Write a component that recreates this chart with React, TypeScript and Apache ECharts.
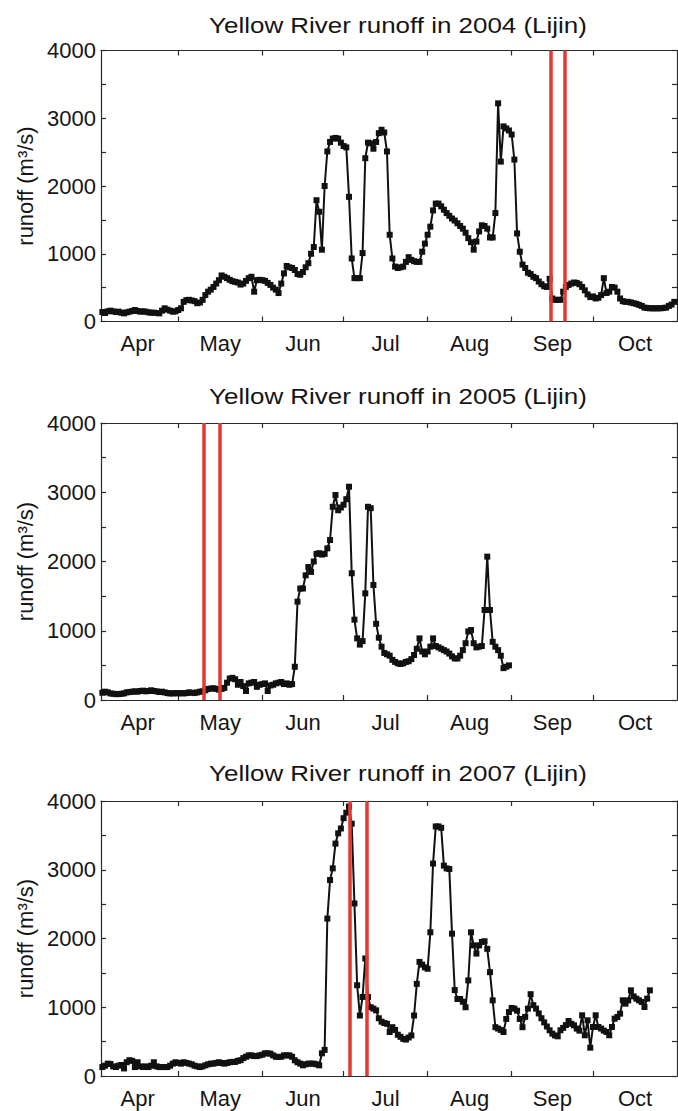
import React, { useEffect, useRef } from "react";
import * as echarts from "echarts";

// Month labels (placed mid-month) and month boundaries (days counted from Apr 1 = 0)
const months = ["Apr", "May", "Jun", "Jul", "Aug", "Sep", "Oct"];
const monthMidDays = [15, 45.5, 76, 106.5, 137.5, 168, 198.5];
const monthStartDays = [30, 61, 91, 122, 153, 183];
const yLabelValues = [0, 1000, 2000, 3000, 4000];

// first data point is Apr 3 (day 2), then one value per day
const firstDay = 2;

const runoff2004 = [
  140, 125, 150, 160, 150, 140, 145, 130, 120, 135, 145, 155, 170, 155, 145, 150, 145, 135, 130, 130, 125, 120, 160, 195, 175, 160, 145, 150, 170, 195,
  290, 315, 320, 310, 300, 270, 280, 320, 390, 440, 470, 510, 560, 610, 680, 660, 640, 615, 595, 585, 575, 545, 560, 600, 640, 660, 440, 610, 615, 610,
  600, 570, 540, 500, 470, 420, 560, 710, 820, 800, 790, 760, 700, 690, 730, 800, 860, 1000, 1100, 1790, 1620, 1060, 2000, 2510, 2650, 2700, 2710, 2700, 2640, 2590,
  2570, 1840, 930, 640, 640, 640, 1010, 2410, 2640, 2630, 2550, 2650, 2780, 2830, 2790, 2510, 1280, 930, 810, 790, 800, 810, 880, 950, 910, 890, 880, 880, 1030, 1150, 1280,
  1400, 1640, 1740, 1740, 1700, 1650, 1600, 1560, 1520, 1490, 1450, 1410, 1370, 1310, 1230, 1170, 1060, 1180, 1330, 1420, 1410, 1370, 1240, 1240, 1600, 3220, 2360, 2880, 2850, 2820, 2760,
  2390, 1300, 1030, 840, 790, 720, 700, 660, 640, 590, 550, 520, 510, 630, 340, 320, 320, 320, 440, 510, 540, 560, 575, 570, 550, 510, 460, 400, 360, 370,
  340, 350, 390, 640, 420, 440, 510, 500, 440, 340, 300, 290, 290, 280, 270, 260, 245, 230, 205, 200, 195, 195, 195, 195, 195, 200, 205, 230, 250, 290,
];

const runoff2005 = [
  105, 120, 110, 95, 90, 85, 85, 90, 95, 110, 115, 120, 125, 120, 130, 135, 125, 130, 140, 130, 125, 115, 120, 110, 100, 95, 95, 100, 95, 100,
  95, 100, 110, 105, 100, 110, 120, 125, 140, 160, 165, 170, 160, 150, 160, 175, 250, 310, 320, 300, 220, 260, 200, 130, 240, 250, 260, 190, 220, 230,
  240, 130, 210, 220, 240, 250, 260, 230, 240, 220, 230, 480, 1420, 1610, 1610, 1800, 1920, 1850, 2000, 2110, 2120, 2100, 2110, 2190, 2310, 2790, 2960, 2740, 2780, 2820, 2900,
  3080, 1830, 1160, 890, 800, 850, 1540, 2790, 2770, 1660, 1100, 900, 770, 680, 660, 640, 580, 550, 530, 520, 530, 550, 560, 590, 650, 740, 890, 700, 660, 700,
  770, 890, 780, 760, 740, 720, 700, 670, 630, 600, 600, 640, 720, 820, 990, 1010, 820, 760, 770, 780, 1300, 2070, 1300, 840, 770, 720, 640, 460, 480, 500,
];

const runoff2007 = [
  130, 150, 180, 175, 140, 130, 150, 160, 110, 200, 230, 220, 130, 200, 140, 130, 140, 130, 150, 200, 140, 130, 130, 130, 130, 150, 180, 200, 190, 180,
  200, 190, 180, 170, 150, 140, 130, 140, 155, 170, 180, 180, 190, 200, 190, 180, 190, 200, 205, 205, 220, 230, 260, 280, 300, 300, 290, 290, 300, 310,
  330, 330, 325, 300, 280, 276, 280, 300, 300, 300, 280, 228, 200, 180, 155, 170, 180, 180, 180, 170, 155, 330, 380, 2290, 2850, 3020, 3380, 3530, 3600, 3750, 3830,
  3920, 3670, 2510, 1320, 880, 1150, 1710, 1150, 1000, 980, 955, 840, 790, 770, 760, 640, 710, 670, 600, 570, 540, 530, 560, 590, 880, 1340, 1660, 1620, 1580, 1560,
  2090, 3090, 3630, 3630, 3610, 3060, 3020, 3010, 2070, 1250, 1120, 1120, 1080, 1000, 1390, 2090, 1900, 1780, 1900, 1950, 1960, 1850, 1510, 1100, 710, 690, 670, 640, 830, 930, 990,
  980, 950, 830, 710, 860, 980, 1190, 1030, 980, 910, 840, 780, 720, 665, 616, 590, 577, 665, 700, 740, 800, 760, 737, 690, 660, 883, 592, 810, 412, 713,
  883, 713, 690, 660, 640, 592, 713, 834, 858, 907, 1101, 1052, 1100, 1246, 1158, 1125, 1100, 1077, 1004, 1125, 1246,
];

// red vertical markers (day numbers)
const redLines2004 = [167.4, 172.6];
const redLines2005 = [39.25, 45.4];
const redLines2007 = [93.4, 99.5];

const titles = [
  "Yellow River runoff in 2004 (Lijin)",
  "Yellow River runoff in 2005 (Lijin)",
  "Yellow River runoff in 2007 (Lijin)",
];

const FONT = "'Liberation Sans', Arial, Helvetica, sans-serif";
const TXT = "#151515";
const AX = "#2a2a2a";

const panels = [
  { top: 50.5, height: 271, titleY: 25.6, data: runoff2004, red: redLines2004 },
  { top: 423, height: 277, titleY: 396.6, data: runoff2005, red: redLines2005 },
  { top: 801, height: 275, titleY: 773, data: runoff2007, red: redLines2007 },
];

function monthFormatter(v: number) {
  let best = 0;
  let bd = Infinity;
  monthMidDays.forEach((m, i) => {
    const d = Math.abs(m - v);
    if (d < bd) {
      bd = d;
      best = i;
    }
  });
  return months[best];
}

function buildOption() {
  const grid: any[] = [];
  const xAxis: any[] = [];
  const yAxis: any[] = [];
  const series: any[] = [];
  const graphic: any[] = [];

  panels.forEach((p, i) => {
    grid.push({ left: 101, right: 1, top: p.top, height: p.height, containLabel: false, outerBoundsMode: "none" });
    const axisLine = { show: true, onZero: false, lineStyle: { color: AX, width: 1.2 } };
    const xTick = { show: true, inside: true, length: 5, customValues: monthStartDays, lineStyle: { color: AX, width: 1.2 } };
    xAxis.push({
      type: "value",
      gridIndex: i,
      position: "bottom",
      min: 1.5,
      max: 214,
      axisLine,
      axisTick: xTick,
      axisLabel: {
        customValues: monthMidDays,
        formatter: monthFormatter,
        fontSize: 22,
        fontFamily: FONT,
        color: TXT,
        margin: 11,
      },
      splitLine: { show: false },
    });
    xAxis.push({
      type: "value",
      gridIndex: i,
      position: "top",
      min: 1.5,
      max: 214,
      axisLine,
      axisTick: xTick,
      axisLabel: { show: false },
      splitLine: { show: false },
    });
    const yTick = { show: true, inside: true, length: 5, lineStyle: { color: AX, width: 1.2 } };
    yAxis.push({
      type: "value",
      gridIndex: i,
      position: "left",
      min: 0,
      max: 4000,
      interval: 500,
      axisLine,
      axisTick: yTick,
      axisLabel: {
        customValues: yLabelValues,
        formatter: (v: number) => String(v),
        fontSize: 22,
        fontFamily: FONT,
        color: TXT,
        margin: 5,
      },
      splitLine: { show: false },
      name: "runoff (m³/s)",
      nameLocation: "middle",
      nameGap: 61,
      nameRotate: 90,
      nameTextStyle: { fontSize: 22, fontFamily: FONT, color: TXT },
    });
    yAxis.push({
      type: "value",
      gridIndex: i,
      position: "right",
      min: 0,
      max: 4000,
      interval: 500,
      axisLine,
      axisTick: yTick,
      axisLabel: { show: false },
      splitLine: { show: false },
    });
    series.push({
      type: "line",
      xAxisIndex: 2 * i,
      yAxisIndex: 2 * i,
      data: p.data.map((v, k) => [firstDay + k, v]),
      symbol: "rect",
      symbolSize: 6,
      showAllSymbol: true,
      clip: true,
      lineStyle: { color: "#111", width: 2 },
      itemStyle: { color: "#111", borderWidth: 0 },
      markLine: {
        silent: true,
        symbol: ["none", "none"],
        label: { show: false },
        lineStyle: { color: "#e53935", width: 3.5, type: "solid" },
        data: p.red.map((d) => ({ xAxis: d })),
      },
    });
    graphic.push({
      type: "text",
      x: 398,
      y: p.titleY,
      scaleX: 1.18,
      silent: true,
      style: {
        text: titles[i],
        fontSize: 22,
        fontFamily: FONT,
        fill: TXT,
        align: "center",
        verticalAlign: "middle",
      },
    });
  });

  return {
    animation: false,
    backgroundColor: "#ffffff",
    grid,
    xAxis,
    yAxis,
    series,
    graphic,
  };
}

export default function App() {
  const ref = useRef<HTMLDivElement>(null);
  useEffect(() => {
    if (!ref.current) return;
    const chart = echarts.init(ref.current, undefined, { renderer: "svg" });
    chart.setOption(buildOption() as any);
    return () => chart.dispose();
  }, []);
  return (
    <div
      ref={ref}
      style={{ position: "absolute", left: 0, top: 0, width: 678, height: 1111, background: "#fff" }}
    />
  );
}
